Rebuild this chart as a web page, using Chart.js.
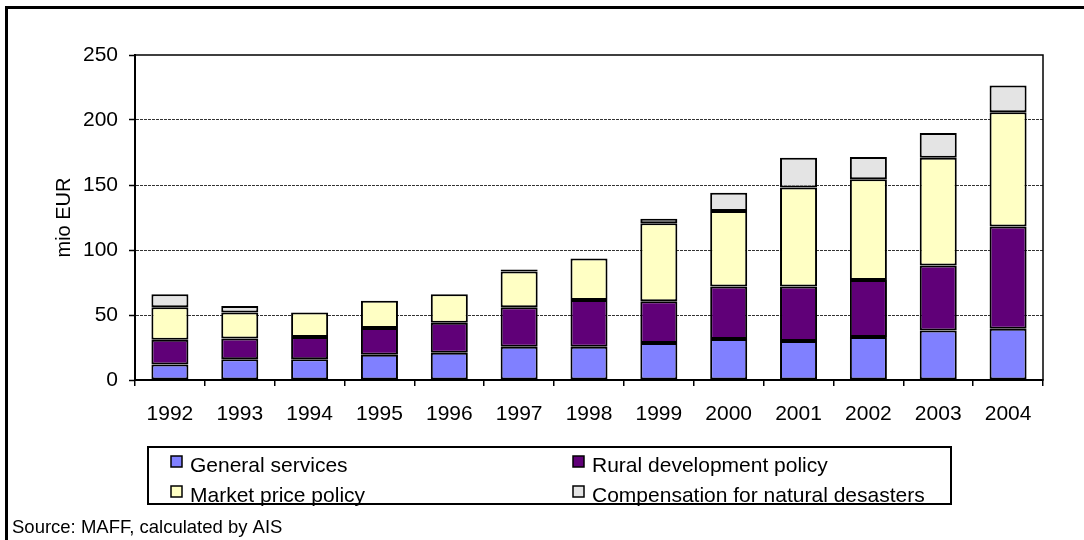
<!DOCTYPE html>
<html>
<head>
<meta charset="utf-8">
<script src="https://cdn.jsdelivr.net/npm/chart.js"></script>
<style>
  html, body { margin: 0; padding: 0; background: #fff; }
  #support { display: block; }
</style>
</head>
<body>
<canvas id="support" width="1084" height="540"></canvas>
<script>
var years = ["1992","1993","1994","1995","1996","1997","1998","1999","2000","2001","2002","2003","2004"];
var generalServices = [12, 16, 16, 19.5, 21, 25.5, 25.5, 28.5, 31.5, 30, 33, 38, 39.5];
var ruralDevelopment = [19, 16, 17, 20.5, 23, 30.5, 36, 32, 40.5, 42, 44, 50, 78.5];
var marketPrice = [25, 20, 19, 21, 22, 27.5, 32, 60, 58, 76, 77.5, 83, 88];
var compensation = [10, 5, 0, 0, 0, 1.5, 0, 3.5, 14, 23, 17, 19, 20.5];
var yTicks = [0, 50, 100, 150, 200, 250];

var FONT = "'Liberation Sans', Arial, sans-serif";

function series(label, data, color) {
  return {
    label: label,
    data: data,
    backgroundColor: color,
    borderColor: "#000",
    borderWidth: 2,
    borderSkipped: false,
    categoryPercentage: 0.53,
    barPercentage: 1.0
  };
}

// frame, plot border, legend box and source line
var decorations = {
  id: "decorations",
  afterDraw: function(chart) {
    var ctx = chart.ctx;
    var a = chart.chartArea;
    ctx.save();
    ctx.strokeStyle = "#000";
    ctx.lineWidth = 1.5;
    ctx.strokeRect(a.left, a.top, a.right - a.left, a.bottom - a.top);

    ctx.lineWidth = 3;
    ctx.strokeRect(6.5, 7.5, 1200, 700);

    // legend
    var ds = chart.data.datasets;
    var cols = [171, 573];
    var rows = [472, 502];
    ctx.font = "21px " + FONT;
    ctx.textBaseline = "alphabetic";
    ctx.textAlign = "left";
    for (var i = 0; i < ds.length; i++) {
      var cx = cols[i % 2], cy = rows[Math.floor(i / 2)];
      ctx.fillStyle = ds[i].backgroundColor;
      ctx.fillRect(cx, cy - 16, 11, 11);
      ctx.lineWidth = 1.5;
      ctx.strokeRect(cx, cy - 16, 11, 11);
      ctx.fillStyle = "#000";
      ctx.fillText(ds[i].label, cx + 19, cy);
    }
    ctx.lineWidth = 2;
    ctx.strokeRect(148, 447, 803, 57);

    ctx.font = "18.5px " + FONT;
    ctx.fillStyle = "#000";
    ctx.fillText("Source: MAFF, calculated by AIS", 12, 533);
    ctx.restore();
  }
};

new Chart("support", {
  type: "bar",
  data: {
    labels: years,
    datasets: [
      series("General services", generalServices, "#8080FF"),
      series("Rural development policy", ruralDevelopment, "#600078"),
      series("Market price policy", marketPrice, "#FFFFC4"),
      series("Compensation for natural desasters", compensation, "#E4E4E4")
    ]
  },
  options: {
    responsive: false,
    animation: false,
    layout: { padding: { left: 0, right: 41, top: 55, bottom: 110 } },
    plugins: { legend: { display: false }, tooltip: { enabled: false } },
    scales: {
      x: {
        stacked: true,
        afterFit: function(s) { s.height = 50; },
        grid: { drawOnChartArea: false, tickLength: 6, color: "#000", lineWidth: 1.5 },
        border: { color: "#000", width: 2 },
        ticks: { color: "#000", padding: 16, font: { family: FONT, size: 21 } }
      },
      y: {
        stacked: true,
        min: 0,
        max: 250,
        afterFit: function(s) { s.width = 135; },
        afterBuildTicks: function(s) { s.ticks = yTicks.map(function(v) { return { value: v }; }); },
        grid: {
          tickLength: 6,
          lineWidth: 1,
          tickColor: "#000",
          tickWidth: 1.5,
          color: function(c) {
            return (c.tick && c.tick.value > 0 && c.tick.value < 250) ? "#333" : "rgba(0,0,0,0)";
          }
        },
        border: { color: "#000", width: 2, dash: [3, 1] },
        ticks: { color: "#000", padding: 11, font: { family: FONT, size: 21 } },
        title: {
          display: true,
          text: "mio EUR",
          color: "#000",
          padding: { top: 52, bottom: 0 },
          font: { family: FONT, size: 20 }
        }
      }
    }
  },
  plugins: [decorations]
});
</script>
</body>
</html>
